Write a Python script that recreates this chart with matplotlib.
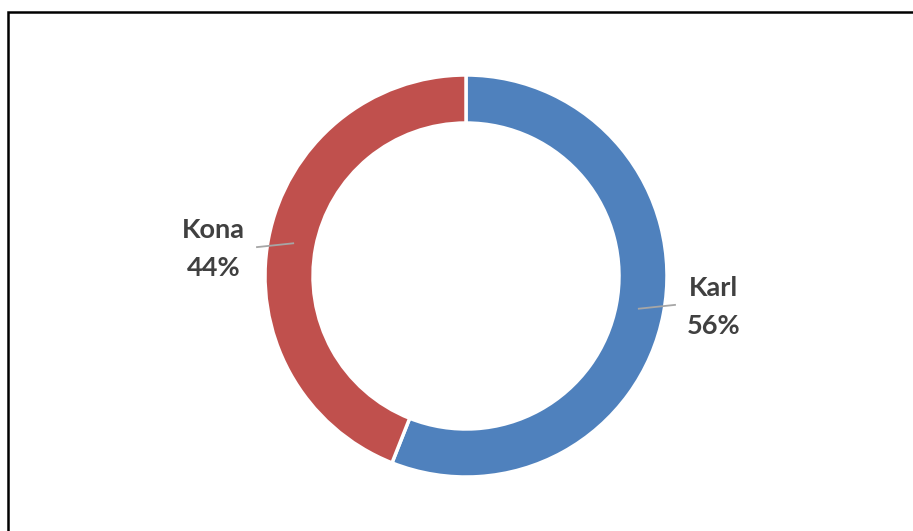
import matplotlib
matplotlib.use("Agg")
import matplotlib.pyplot as plt
from matplotlib.patches import Rectangle
import numpy as np

names = ["Karl", "Kona"]
shares = [56, 44]
colors = ["#4F81BD", "#C0504D"]

W, H = 913, 531
fig = plt.figure(figsize=(W / 100, H / 100), dpi=100)
ax = fig.add_axes([0, 0, 1, 1])

cx, cy = 466, H - 276
R = 201
ring = 48

wedges, _ = ax.pie(shares, colors=colors, startangle=90, counterclock=False,
                   radius=R, center=(cx, cy),
                   wedgeprops=dict(width=ring, edgecolor="white", linewidth=2.5))

ax.set_xlim(0, W)
ax.set_ylim(0, H)
ax.set_aspect("auto")
ax.axis("off")

# labels with short leader lines
for w, name, v in zip(wedges, names, shares):
    mid = np.deg2rad((w.theta1 + w.theta2) / 2)
    r0 = R - 26
    x0, y0 = cx + r0 * np.cos(mid), cy + r0 * np.sin(mid)
    side = 1 if np.cos(mid) > 0 else -1
    x1 = x0 + side * 38
    y1 = y0 + side * 4
    ax.plot([x0, x1], [y0, y1], color="#A6A6A6", lw=1.3, solid_capstyle="butt")
    ax.text(x1 + side * 11, y1 - 2, f"{name}\n{v}%",
            ha="left" if side > 0 else "right", va="center",
            multialignment="center",
            fontsize=19.5, fontweight="bold", color="#404040",
            family="Lato", linespacing=1.7)

# chart frame
fig.patches.append(Rectangle((7.5 / W, -0.1), 1.2, (H - 12) / H + 0.1,
                             transform=fig.transFigure, fill=False,
                             edgecolor="#000000", linewidth=1.8))

fig.savefig("out.png", dpi=100)
